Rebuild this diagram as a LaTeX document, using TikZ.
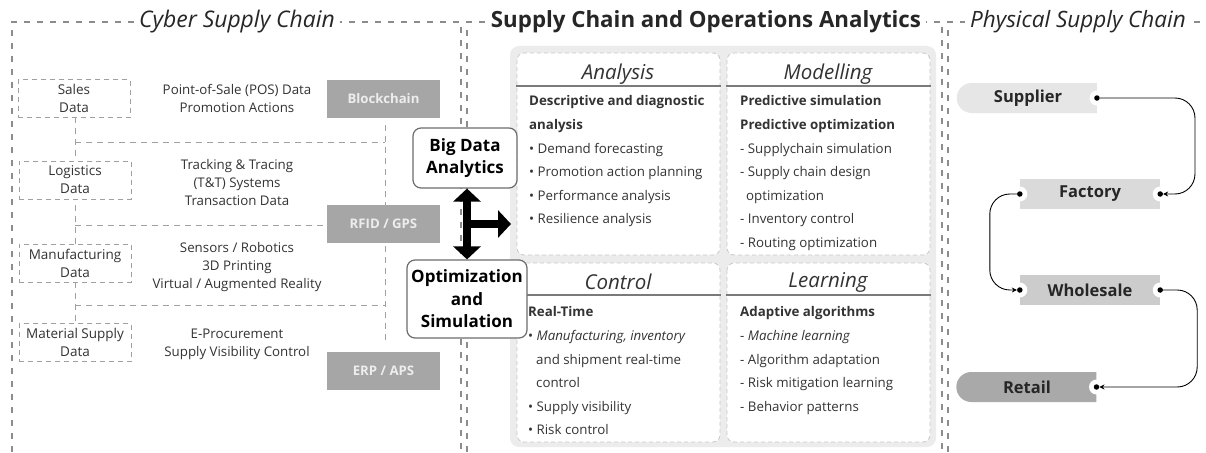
\documentclass[tikz,border=0pt]{standalone}
\usepackage{fontspec}
\setmainfont{Open Sans}
\usetikzlibrary{arrows.meta,calc,shapes.misc}
\definecolor{framegray}{HTML}{8C8C8C}
\definecolor{boxdash}{HTML}{A0A0A0}
\definecolor{techgray}{HTML}{A6A6A6}
\definecolor{backgray}{HTML}{ECECEC}
\definecolor{panelline}{HTML}{C8C8C8}
\definecolor{headline}{HTML}{7A7A7A}
\definecolor{txt}{HTML}{333333}
\definecolor{supfill}{HTML}{E6E6E6}
\definecolor{facfill}{HTML}{DADADA}
\definecolor{whofill}{HTML}{CCCCCC}
\definecolor{retfill}{HTML}{A9A9A9}
\begin{document}
\begin{tikzpicture}[x=1pt,y=-1pt,
  frame/.style={draw=framegray, line width=1.2pt, dash pattern=on 6pt off 7pt},
  databox/.style={draw=boxdash, line width=1pt, dash pattern=on 5pt off 4pt, minimum width=112pt, minimum height=38pt, align=center, inner sep=0pt, font=\fontsize{13.5}{18}\selectfont, text=txt},
  ladder/.style={draw=boxdash, line width=1pt, dash pattern=on 6pt off 5pt},
  techbox/.style={fill=techgray, text=white!93!black, font=\bfseries\fontsize{13.2}{14}\selectfont, minimum width=113pt, minimum height=38pt, inner sep=0pt},
  midtext/.style={align=center, inner sep=0pt, font=\fontsize{13.3}{18}\selectfont, text=txt},
  hub/.style={draw=gray!85!black, line width=1.2pt, rounded corners=8pt, fill=white, font=\bfseries\fontsize{17}{22.5}\selectfont, align=center, inner sep=0pt},
  panel/.style={fill=white, draw=panelline, line width=0.8pt, dash pattern=on 4pt off 3pt, rounded corners=7pt},
  pheader/.style={font=\itshape\fontsize{20.5}{22}\selectfont, text=txt, inner sep=0pt},
  hline/.style={draw=headline, line width=2.5pt},
  ptext/.style={anchor=north west, align=left, inner sep=0pt, font=\fontsize{13.3}{23.6}\selectfont, text=txt},
  title/.style={fill=white, inner xsep=5pt, inner ysep=2pt, text=black!85},
  bigarrow/.style={draw=black, line width=7.5pt},
  stage/.style={minimum width=140pt, minimum height=30pt, font=\bfseries\fontsize{16.5}{18}\selectfont, inner sep=0pt, text=black!85},
  pdot/.style={circle, fill=black, inner sep=0pt, minimum size=5.5pt},
  notch/.style={circle, fill=white, inner sep=0pt, minimum size=15pt},
  conn/.style={draw=black, line width=0.9pt, rounded corners=20pt},
  tip/.style={-{Stealth[length=5pt,width=5pt]}}
]
\useasboundingbox (0,0) rectangle (1206,452);
\fill[white] (0,0) rectangle (1206,452);

% outer frames
\draw[frame] (12,452) -- (12,22) -- (461,22) -- (461,452);
\draw[frame] (467,452) -- (467,22) -- (942,22) -- (942,452);
\draw[frame] (948,452) -- (948,22) -- (1206,22);
\node[title, font=\itshape\fontsize{22.9}{26}\selectfont] (t1) at (237,22) {Cyber Supply Chain};
\node[title, font=\bfseries\fontsize{22.3}{26}\selectfont] (t2) at (706,22) {Supply Chain and Operations Analytics};
\node[title, font=\itshape\fontsize{22.5}{26}\selectfont] (t3) at (1078,22) {Physical Supply Chain};

% ladder of dashed lines
\draw[ladder] (75,117) -- (75,323);
\draw[ladder] (385,125) -- (385,342);
\draw[ladder] (75,142) -- (385,142);
\draw[ladder] (75,225) -- (385,225);
\draw[ladder] (75,305) -- (385,305);

% data boxes
\node[databox, fill=white] (sales) at (74,98.5) {Sales\\Data};
\node[databox, fill=white] (logi) at (75,180) {Logistics\\Data};
\node[databox, fill=white] (manu) at (75,263) {Manufacturing\\Data};
\node[databox, fill=white] (mat) at (75,342.5) {Material Supply\\Data};

% middle texts
\node[midtext] (m1) at (237,98) {Point-of-Sale (POS) Data\\Promotion Actions};
\node[midtext] (m2) at (237,183) {Tracking \& Tracing\\(T\&T) Systems\\Transaction Data};
\node[midtext] (m3) at (237,267) {Sensors / Robotics\\3D Printing\\Virtual / Augmented Reality};
\node[midtext] (m4) at (237,344) {E-Procurement\\Supply Visibility Control};

% technology boxes
\node[techbox] (bc) at (383.5,99) {Blockchain};
\node[techbox] (rfid) at (383.5,224) {RFID / GPS};
\node[techbox] (erp) at (383.5,371) {ERP / APS};

% analytics backdrop and panels
\fill[backgray, rounded corners=9pt] (510,46) rectangle (936,447);
\path[panel] (517,53) rectangle (720,255);
\path[panel] (727,53) rectangle (930,255);
\path[panel] (517,263) rectangle (720,442);
\path[panel] (727,263) rectangle (930,442);
\draw[hline] (516,86) -- (721,86);
\draw[hline] (726,86) -- (931,86);
\draw[hline] (516,295) -- (721,295);
\draw[hline] (726,295) -- (931,295);
\node[pheader] (hA) at (618,74) {Analysis};
\node[pheader] (hM) at (828,74) {Modelling};
\node[pheader] (hC) at (618,282) {Control};
\node[pheader] (hL) at (828,282) {Learning};

\node[ptext] (bA) at (529,95.5) {\textbf{Descriptive and diagnostic}\\\textbf{analysis}\\• Demand forecasting\\• Promotion action planning\\• Performance analysis\\• Resilience analysis};
\node[ptext] (bM) at (740,95.5) {\textbf{Predictive simulation}\\\textbf{Predictive optimization}\\- Supplychain simulation\\- Supply chain design\\\hspace*{6pt}optimization\\- Inventory control\\- Routing optimization};
\node[ptext] (bC) at (528,306.5) {\textbf{Real-Time}\\• \textit{Manufacturing, inventory}\\\hspace*{8pt}and shipment real-time\\\hspace*{8pt}control\\• Supply visibility\\• Risk control};
\node[ptext] (bL) at (740,306.5) {\textbf{Adaptive algorithms}\\- \textit{Machine learning}\\- Algorithm adaptation\\- Risk mitigation learning\\- Behavior patterns};

% hubs
\node[hub, minimum width=104pt, minimum height=60pt] (bda) at (465,158) {Big Data\\Analytics};
\node[hub, minimum width=120pt, minimum height=78pt] (opt) at (467,299) {Optimization\\and\\Simulation};
\coordinate (split) at (467,224);
\coordinate (into) at (511,224);
\draw[bigarrow, {Triangle[width=27pt,length=13pt]}-{Triangle[width=27pt,length=13pt]}] (bda.south -| split) -- (opt.north -| split);
\draw[bigarrow, -{Triangle[width=27pt,length=13pt]}] (split) -- (into);

% physical supply chain
\node[stage, rounded rectangle, rounded rectangle right arc=none, fill=supfill] (sup) at (1028,98) {Supplier};
\node[stage, fill=facfill] (fac) at (1090,194) {Factory};
\node[stage, fill=whofill] (who) at (1090,290) {Wholesale};
\node[stage, rounded rectangle, rounded rectangle right arc=none, fill=retfill] (ret) at (1027,387) {Retail};
\node[notch] (n1) at (sup.east) {};
\node[notch] (n2) at (fac.west) {};
\node[notch] (n3) at (fac.east) {};
\node[notch] (n4) at (who.west) {};
\node[notch] (n5) at (who.east) {};
\node[notch] (n6) at (ret.east) {};
\node[pdot] (sOut) at (sup.east) {};
\node[pdot] (fOut) at (fac.west) {};
\node[pdot] (fIn) at (fac.east) {};
\node[pdot] (wIn) at (who.west) {};
\node[pdot] (wOut) at (who.east) {};
\node[pdot] (rIn) at (ret.east) {};
\draw[conn, tip] (sOut) -- ++(98,0) |- (fIn);
\draw[conn, tip] (fOut) -- ++(-30,0) |- (wIn);
\draw[conn, tip] (wOut) -- ++(37,0) |- (rIn);
\end{tikzpicture}
\end{document}
